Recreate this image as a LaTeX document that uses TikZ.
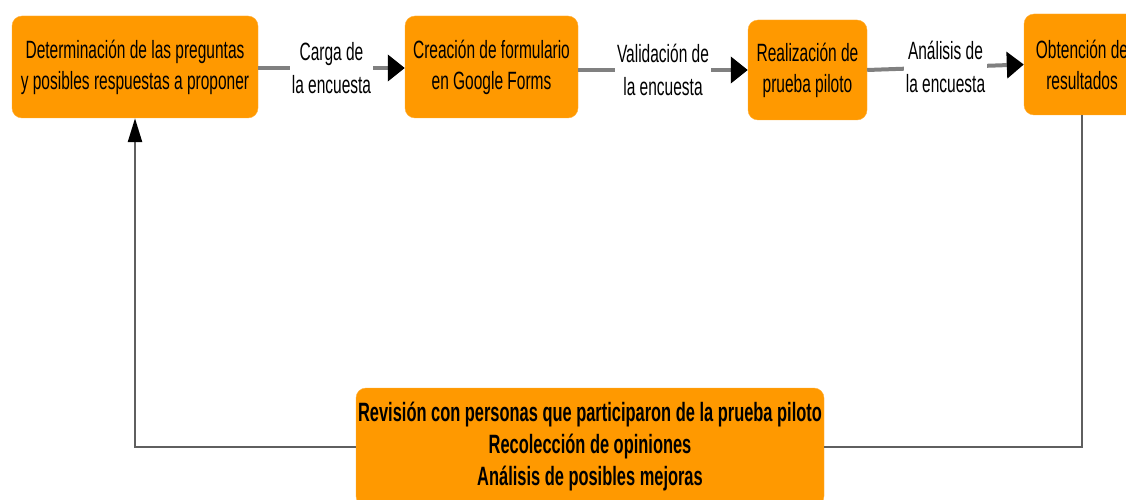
\documentclass[tikz,border=0pt]{standalone}
\usepackage{fontspec}
\setmainfont{Liberation Sans}[FakeStretch=0.62]
\usetikzlibrary{arrows.meta}
\definecolor{boxorange}{RGB}{255,153,0}
\definecolor{linegray}{RGB}{128,128,128}
\definecolor{fbgray}{RGB}{95,95,95}
\tikzset{
  stepbox/.style={fill=boxorange, draw=boxorange!80!white, rounded corners=10pt, align=center,
    inner sep=0pt, font=\fontsize{25}{31}\selectfont, text=black},
  lbl/.style={fill=white, align=center, inner sep=2pt, font=\fontsize{25}{33}\selectfont, text=black},
  conn/.style={draw=linegray, line width=4pt, -{Triangle[length=17pt,width=26pt,color=black,fill=black]}},
  fb/.style={draw=fbgray, line width=2.5pt},
}
\begin{document}
\begin{tikzpicture}[x=1pt,y=-1pt]
\useasboundingbox (0,0) rectangle (1126,500);
\clip (0,0) rectangle (1126,500);
\node[stepbox, minimum width=246pt, minimum height=102pt] (a) at (135,67) {Determinación de las preguntas\\y posibles respuestas a proponer};
\node[stepbox, minimum width=173pt, minimum height=102pt] (b) at (491.5,67) {Creación de formulario\\en Google Forms};
\node[stepbox, minimum width=119pt, minimum height=100pt] (c) at (807.5,70) {Realización de\\prueba piloto};
\node[stepbox, minimum width=116pt, minimum height=101pt] (d) at (1082,64.5) {Obtención de\\resultados};
\node[stepbox, minimum width=468pt, minimum height=118pt, font=\fontsize{26.5}{32}\selectfont\bfseries] (e) at (590,447) {Revisión con personas que participaron de la prueba piloto\\Recolección de opiniones\\Análisis de posibles mejoras};
\draw[conn] (a.east |- 0,68) -- node[lbl] (la) {Carga de\\la encuesta} (b.west |- 0,68);
\draw[conn] (b.east |- 0,70) -- node[lbl] (lb) {Validación de\\la encuesta} (c.west |- 0,70);
\draw[conn] (c.east) -- node[lbl] (lc) {Análisis de\\la encuesta} (d.west);
\draw[fb] (d.south) |- (e.east);
\draw[fb, -{Triangle[length=24pt,width=14pt,color=black,fill=black]}] (e.west) -| (a.south);
\end{tikzpicture}
\end{document}
